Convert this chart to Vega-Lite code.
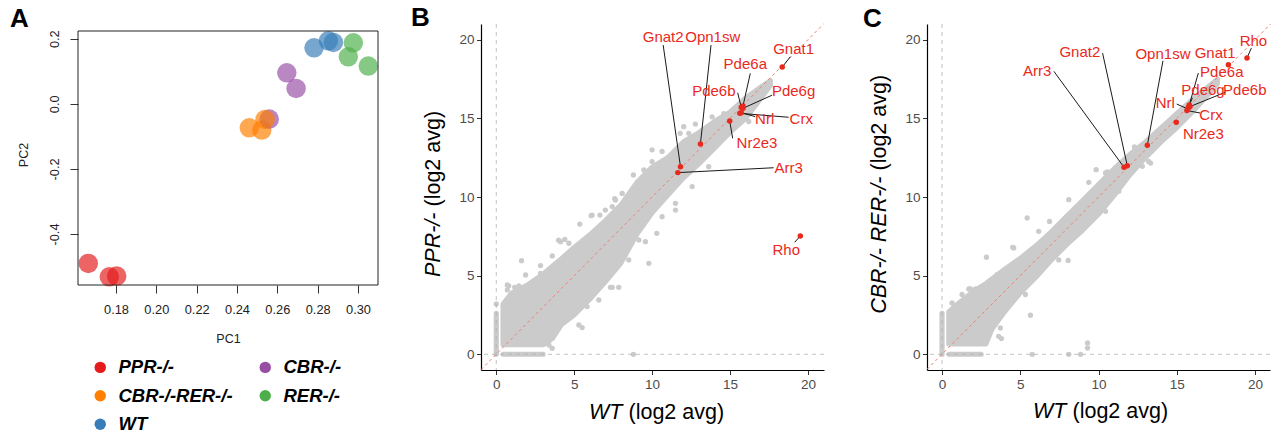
{
  "$schema": "https://vega.github.io/schema/vega-lite/v6.json",
  "padding": {"left": 10, "top": 4, "right": 0, "bottom": 0},
  "background": "white",
  "bounds": "flush",
  "spacing": 103,
  "config": {
    "font": "Liberation Sans",
    "view": {"stroke": null},
    "axis": {"grid": false},
    "title": {"fontSize": 26, "fontWeight": "bold", "anchor": "start", "frame": "bounds", "color": "#000"}
  },
  "datasets": {
    "pca": [
      {"group": "PPR-/-", "pc1": 0.16626, "pc2": -0.4903},
      {"group": "PPR-/-", "pc1": 0.17668, "pc2": -0.5315},
      {"group": "PPR-/-", "pc1": 0.18035, "pc2": -0.5293},
      {"group": "CBR-/-RER-/-", "pc1": 0.2461, "pc2": -0.0737},
      {"group": "CBR-/-RER-/-", "pc1": 0.2523, "pc2": -0.0808},
      {"group": "CBR-/-", "pc1": 0.2560, "pc2": -0.0470},
      {"group": "CBR-/-RER-/-", "pc1": 0.2539, "pc2": -0.0479},
      {"group": "CBR-/-", "pc1": 0.2647, "pc2": 0.0952},
      {"group": "CBR-/-", "pc1": 0.2693, "pc2": 0.0473},
      {"group": "WT", "pc1": 0.2782, "pc2": 0.1720},
      {"group": "WT", "pc1": 0.2853, "pc2": 0.1935},
      {"group": "WT", "pc1": 0.2878, "pc2": 0.1886},
      {"group": "RER-/-", "pc1": 0.2977, "pc2": 0.1874},
      {"group": "RER-/-", "pc1": 0.2952, "pc2": 0.1444},
      {"group": "RER-/-", "pc1": 0.3051, "pc2": 0.1158}
    ],
    "cloudB": [
      {"x": 0.43, "hi": 3.2, "lo": 0.6},
      {"x": 1.0, "hi": 3.9, "lo": 0.6},
      {"x": 2.0, "hi": 4.4, "lo": 0.6},
      {"x": 3.0, "hi": 5.1, "lo": 0.6},
      {"x": 3.6, "hi": 5.6, "lo": 1.0},
      {"x": 4.2, "hi": 6.1, "lo": 1.9},
      {"x": 5.0, "hi": 6.8, "lo": 2.5},
      {"x": 6.0, "hi": 7.6, "lo": 3.5},
      {"x": 7.0, "hi": 8.5, "lo": 4.6},
      {"x": 8.0, "hi": 9.5, "lo": 5.8},
      {"x": 9.0, "hi": 10.9, "lo": 7.6},
      {"x": 10.0, "hi": 11.9, "lo": 9.0},
      {"x": 11.0, "hi": 12.5, "lo": 10.1},
      {"x": 12.0, "hi": 13.5, "lo": 11.2},
      {"x": 13.0, "hi": 14.1, "lo": 12.1},
      {"x": 14.0, "hi": 14.8, "lo": 13.1},
      {"x": 15.0, "hi": 15.4, "lo": 14.1},
      {"x": 16.0, "hi": 16.3, "lo": 15.0},
      {"x": 17.0, "hi": 17.0, "lo": 16.3},
      {"x": 17.6, "hi": 17.4, "lo": 17.1}
    ],
    "segB": [
      {"x": 0, "y": 0, "x2": 0, "y2": 2.6},
      {"x": 0.45, "y": 0, "x2": 3.0, "y2": 0}
    ],
    "ptsB": [
      {"x": 0, "y": 3.2}, {"x": 0.8, "y": 4.35}, {"x": 1.62, "y": 5.95}, {"x": 1.88, "y": 5.04},
      {"x": 2.84, "y": 5.64}, {"x": 4.0, "y": 7.25}, {"x": 4.4, "y": 7.3}, {"x": 5.36, "y": 8.28},
      {"x": 6.15, "y": 8.85}, {"x": 6.65, "y": 8.85}, {"x": 7.6, "y": 9.9}, {"x": 8.8, "y": 11.4},
      {"x": 10.0, "y": 13.0}, {"x": 10.64, "y": 12.9}, {"x": 12.03, "y": 14.47}, {"x": 12.78, "y": 14.64},
      {"x": 5.51, "y": 1.7}, {"x": 8.8, "y": 0}, {"x": 9.79, "y": 5.78}, {"x": 7.86, "y": 4.26},
      {"x": 7.33, "y": 4.26}, {"x": 9.57, "y": 7.16}, {"x": 10.64, "y": 8.75}, {"x": 11.5, "y": 9.6},
      {"x": 0.71, "y": 4.41}, {"x": 0.71, "y": 4.09}, {"x": 1.18, "y": 4.26}, {"x": 1.45, "y": 4.34},
      {"x": 2.84, "y": 5.15}, {"x": 3.59, "y": 6.25}, {"x": 4.12, "y": 7.16}, {"x": 4.66, "y": 7.06},
      {"x": 6.09, "y": 8.81}, {"x": 7.44, "y": 9.39}, {"x": 7.0, "y": 9.17}, {"x": 7.65, "y": 9.81},
      {"x": 8.08, "y": 10.23}, {"x": 9.47, "y": 11.72}, {"x": 10.0, "y": 12.25}, {"x": 11.8, "y": 14.05},
      {"x": 12.35, "y": 14.05}, {"x": 13.85, "y": 15.1}, {"x": 14.6, "y": 15.3},
      {"x": 3.38, "y": 0.59}, {"x": 3.59, "y": 0.38}, {"x": 5.3, "y": 1.86}, {"x": 5.83, "y": 3.03},
      {"x": 6.58, "y": 3.45}, {"x": 7.44, "y": 4.26}, {"x": 8.5, "y": 6.0}, {"x": 9.15, "y": 7.27},
      {"x": 10.3, "y": 7.69}, {"x": 11.5, "y": 9.17}, {"x": 12.57, "y": 10.66}, {"x": 13.63, "y": 11.93},
      {"x": 16.2, "y": 14.8}
    ],
    "cloudC": [
      {"x": 0.43, "hi": 2.7, "lo": 0.65},
      {"x": 1.0, "hi": 3.2, "lo": 0.65},
      {"x": 2.0, "hi": 4.0, "lo": 0.65},
      {"x": 2.8, "hi": 4.5, "lo": 0.65},
      {"x": 3.2, "hi": 4.8, "lo": 1.6},
      {"x": 4.0, "hi": 5.4, "lo": 2.7},
      {"x": 5.0, "hi": 6.1, "lo": 3.9},
      {"x": 6.0, "hi": 6.9, "lo": 4.9},
      {"x": 7.0, "hi": 7.8, "lo": 6.0},
      {"x": 8.0, "hi": 8.8, "lo": 7.0},
      {"x": 9.0, "hi": 9.8, "lo": 7.9},
      {"x": 10.0, "hi": 10.8, "lo": 8.9},
      {"x": 11.0, "hi": 11.8, "lo": 10.1},
      {"x": 12.0, "hi": 12.7, "lo": 11.4},
      {"x": 13.0, "hi": 13.5, "lo": 12.5},
      {"x": 14.0, "hi": 14.4, "lo": 13.5},
      {"x": 15.0, "hi": 15.3, "lo": 14.4},
      {"x": 16.0, "hi": 16.2, "lo": 15.4},
      {"x": 17.0, "hi": 17.0, "lo": 16.5},
      {"x": 17.6, "hi": 17.5, "lo": 17.2}
    ],
    "segC": [
      {"x": 0, "y": 0, "x2": 0, "y2": 2.6},
      {"x": 0.45, "y": 0, "x2": 2.5, "y2": 0}
    ],
    "ptsC": [
      {"x": 1.28, "y": 3.8}, {"x": 1.81, "y": 4.15}, {"x": 2.13, "y": 4.15}, {"x": 2.84, "y": 6.17},
      {"x": 4.52, "y": 6.8}, {"x": 5.44, "y": 8.67}, {"x": 6.18, "y": 7.82}, {"x": 6.87, "y": 8.45},
      {"x": 7.46, "y": 6.0}, {"x": 8.06, "y": 5.97}, {"x": 8.1, "y": 9.83}, {"x": 9.38, "y": 10.93},
      {"x": 9.85, "y": 11.74}, {"x": 10.55, "y": 11.59}, {"x": 12.3, "y": 13.18}, {"x": 13.2, "y": 12.27},
      {"x": 5.65, "y": 2.48}, {"x": 3.8, "y": 1.0}, {"x": 5.76, "y": 0}, {"x": 8.1, "y": 0},
      {"x": 8.85, "y": 0}, {"x": 9.3, "y": 0.72}, {"x": 9.3, "y": 0.4},
      {"x": 0.64, "y": 3.26}, {"x": 1.71, "y": 4.15}, {"x": 3.52, "y": 5.06}, {"x": 4.58, "y": 6.76},
      {"x": 3.73, "y": 1.67}, {"x": 3.62, "y": 1.14}, {"x": 5.33, "y": 3.8}, {"x": 7.04, "y": 6.33},
      {"x": 10.45, "y": 11.53}, {"x": 12.37, "y": 13.11}, {"x": 12.8, "y": 11.95}, {"x": 13.33, "y": 12.16},
      {"x": 10.45, "y": 9.09}, {"x": 11.3, "y": 10.36}
    ],
    "genesB": [
      {"gene": "Gnat1", "x": 18.35, "y": 18.26, "lx": 19.08, "ly": 19.39, "ex": 18.87, "ey": 18.92},
      {"gene": "Pde6a", "x": 15.83, "y": 15.78, "lx": 15.98, "ly": 18.44, "ex": 16.3, "ey": 17.86},
      {"gene": "Pde6b", "x": 15.72, "y": 15.7, "lx": 13.96, "ly": 16.74, "ex": 15.49, "ey": 16.63},
      {"gene": "Pde6g", "x": 15.83, "y": 15.64, "lx": 19.08, "ly": 16.74, "ex": 17.69, "ey": 16.47},
      {"gene": "Nrl", "x": 15.72, "y": 15.36, "lx": 17.22, "ly": 14.98, "ex": 16.62, "ey": 15.11},
      {"gene": "Crx", "x": 15.63, "y": 15.32, "lx": 19.57, "ly": 14.98, "ex": 18.76, "ey": 15.07},
      {"gene": "Nr2e3", "x": 14.98, "y": 14.83, "lx": 16.73, "ly": 13.41, "ex": 15.17, "ey": 13.73},
      {"gene": "Opn1sw", "x": 13.1, "y": 13.37, "lx": 13.89, "ly": 20.15, "ex": 13.78, "ey": 19.66},
      {"gene": "Gnat2", "x": 11.82, "y": 11.93, "lx": 10.71, "ly": 20.15, "ex": 10.71, "ey": 19.66},
      {"gene": "Arr3", "x": 11.65, "y": 11.55, "lx": 18.76, "ly": 11.82, "ex": 17.8, "ey": 11.86},
      {"gene": "Rho", "x": 19.51, "y": 7.52, "lx": 18.61, "ly": 6.63, "ex": 19.15, "ey": 7.12}
    ],
    "genesC": [
      {"gene": "Rho", "x": 19.49, "y": 18.84, "lx": 19.9, "ly": 19.92, "ex": 19.77, "ey": 19.47},
      {"gene": "Gnat1", "x": 18.3, "y": 18.41, "lx": 17.45, "ly": 19.18},
      {"gene": "Opn1sw", "x": 13.12, "y": 13.29, "lx": 14.12, "ly": 19.11, "ex": 14.12, "ey": 18.66},
      {"gene": "Gnat2", "x": 11.84, "y": 11.99, "lx": 8.81, "ly": 19.2, "ex": 10.26, "ey": 19.15},
      {"gene": "Arr3", "x": 11.63, "y": 11.89, "lx": 6.08, "ly": 17.99, "ex": 7.15, "ey": 17.99},
      {"gene": "Nr2e3", "x": 14.97, "y": 14.75, "lx": 16.7, "ly": 14.0},
      {"gene": "Pde6a", "x": 15.8, "y": 15.85, "lx": 17.88, "ly": 17.92, "ex": 16.38, "ey": 17.88},
      {"gene": "Pde6g", "x": 15.75, "y": 15.7, "lx": 16.68, "ly": 16.78, "ex": 16.0, "ey": 16.3},
      {"gene": "Pde6b", "x": 15.85, "y": 15.75, "lx": 19.35, "ly": 16.78, "ex": 18.13, "ey": 16.67},
      {"gene": "Nrl", "x": 15.7, "y": 15.6, "lx": 14.27, "ly": 15.98, "ex": 15.0, "ey": 15.91},
      {"gene": "Crx", "x": 15.65, "y": 15.5, "lx": 17.19, "ly": 15.19, "ex": 16.49, "ey": 15.34}
    ]
  },
  "hconcat": [
    {
      "width": 300,
      "height": 261,
      "title": {"text": "A", "dx": -7, "dy": 12},
      "layer": [
        {
          "data": {"name": "pca"},
          "mark": {"type": "circle", "size": 380, "opacity": 0.68},
          "encoding": {
            "x": {"field": "pc1", "type": "quantitative",
              "scale": {"domain": [0.16116, 0.30992], "nice": false, "zero": false},
              "axis": {"values": [0.18, 0.2, 0.22, 0.24, 0.26, 0.28, 0.3], "format": ".2f", "domain": false,
                "tickSize": 8, "tickColor": "#333", "labelPadding": 10, "labelFontSize": 12.8, "labelColor": "#222",
                "title": "PC1", "titleFontWeight": "normal", "titleFontSize": 12.5, "titleColor": "#222", "titlePadding": 17}},
            "y": {"field": "pc2", "type": "quantitative",
              "scale": {"domain": [-0.5567, 0.24516], "nice": false, "zero": false},
              "axis": {"values": [-0.4, -0.2, 0, 0.2], "labelExpr": "replace(format(datum.value, '.1f'), '−', '-')",
                "domain": false, "tickSize": 8, "tickColor": "#333", "labelAngle": -90, "labelAlign": "center",
                "labelBaseline": "bottom", "labelPadding": 9, "labelFontSize": 12.8, "labelColor": "#222",
                "title": "PC2", "titleFontWeight": "normal", "titleFontSize": 12.5, "titleColor": "#222", "titlePadding": 18}},
            "color": {"field": "group", "type": "nominal",
              "scale": {"domain": ["PPR-/-", "CBR-/-RER-/-", "WT", "CBR-/-", "RER-/-"],
                "range": ["#E41A1C", "#FF7F00", "#377EB8", "#984EA3", "#4DAF4A"]},
              "legend": {"orient": "none", "legendX": 13, "legendY": 334, "columns": 2, "title": null,
                "symbolType": "circle", "symbolSize": 130, "symbolOpacity": 1, "symbolStrokeWidth": 0,
                "labelFontSize": 18.5, "labelFontStyle": "italic", "labelFontWeight": "bold", "labelColor": "#000",
                "labelOffset": 9, "rowPadding": 9.5, "columnPadding": 23, "labelLimit": 300, "padding": 0}}
          }
        },
        {
          "data": {"values": [{}]},
          "mark": {"type": "rect", "fill": "transparent", "stroke": "#222", "strokeWidth": 1},
          "encoding": {
            "x": {"datum": 0.16116, "type": "quantitative"},
            "x2": {"datum": 0.30992},
            "y": {"datum": -0.5567, "type": "quantitative"},
            "y2": {"datum": 0.22365}
          }
        }
      ]
    },
    {
      "width": 343,
      "height": 346,
      "title": {"text": "B", "dx": -11, "dy": 11},
      "resolve": {"axis": {"x": "independent", "y": "independent"}},
      "layer": [
        {
          "data": {"name": "cloudB"},
          "mark": {"type": "area", "color": "#cbcbcb", "stroke": "#cbcbcb", "strokeWidth": 5, "strokeJoin": "round"},
          "encoding": {
            "x": {"field": "x", "type": "quantitative", "scale": {"domain": [-0.98, 21.03], "nice": false, "zero": false},
              "axis": {"orient": "bottom", "values": [0, 5, 10, 15, 20], "format": "d", "domainColor": "#000", "domainWidth": 1.2,
                "tickColor": "#333", "tickSize": 4.5, "labelPadding": 2.5, "labelFontSize": 13.5, "labelColor": "#4d4d4d",
                "title": "WT", "titleFontStyle": "italic", "titleFontWeight": "normal", "titleFontSize": 21.5, "titleColor": "#000",
                "titleX": 141, "titleY": 48, "titleAlign": "right", "titleBaseline": "alphabetic"}},
            "y": {"field": "hi", "type": "quantitative", "scale": {"domain": [-1, 21], "nice": false, "zero": false},
              "axis": {"orient": "left", "values": [0, 5, 10, 15, 20], "format": "d", "domainColor": "#000", "domainWidth": 1.2,
                "tickColor": "#333", "tickSize": 4.5, "labelPadding": 2.5, "labelFontSize": 13.5, "labelColor": "#4d4d4d",
                "title": "PPR-/-", "titleFontStyle": "italic", "titleFontWeight": "normal", "titleFontSize": 21.5, "titleColor": "#000",
                "titleAngle": 270, "titleX": -42, "titleY": 188, "titleAlign": "right", "titleBaseline": "alphabetic"}},
            "y2": {"field": "lo"}
          }
        },
        {
          "data": {"name": "segB"},
          "mark": {"type": "rule", "color": "#cbcbcb", "strokeWidth": 5.2, "strokeCap": "round"},
          "encoding": {
            "x": {"field": "x", "type": "quantitative", "axis": null},
            "y": {"field": "y", "type": "quantitative", "axis": null},
            "x2": {"field": "x2"}, "y2": {"field": "y2"}
          }
        },
        {
          "data": {"name": "ptsB"},
          "mark": {"type": "circle", "color": "#cbcbcb", "opacity": 1, "size": 28},
          "encoding": {
            "x": {"field": "x", "type": "quantitative", "axis": null},
            "y": {"field": "y", "type": "quantitative", "axis": null}
          }
        },
        {
          "data": {"values": [{}]},
          "mark": {"type": "rule", "color": "#b3b3b3", "strokeDash": [4, 4], "strokeWidth": 0.8},
          "encoding": {"x": {"datum": 0, "type": "quantitative", "axis": null}}
        },
        {
          "data": {"values": [{}]},
          "mark": {"type": "rule", "color": "#b3b3b3", "strokeDash": [4, 4], "strokeWidth": 0.8},
          "encoding": {"y": {"datum": 0, "type": "quantitative", "axis": null}}
        },
        {
          "data": {"values": [{}]},
          "mark": {"type": "rule", "color": "#f07f73", "strokeDash": [3, 3], "strokeWidth": 1},
          "encoding": {
            "x": {"datum": -0.98, "type": "quantitative",
              "axis": {"orient": "bottom", "labels": false, "ticks": false, "domain": false,
                "title": "(log2 avg)", "titleFontWeight": "normal", "titleFontSize": 21.5, "titleColor": "#000",
                "titleX": 147, "titleY": 48, "titleAlign": "left", "titleBaseline": "alphabetic"}},
            "y": {"datum": -0.98, "type": "quantitative",
              "axis": {"orient": "left", "labels": false, "ticks": false, "domain": false,
                "title": "(log2 avg)", "titleFontWeight": "normal", "titleFontSize": 21.5, "titleColor": "#000",
                "titleAngle": 270, "titleX": -42, "titleY": 182, "titleAlign": "left", "titleBaseline": "alphabetic"}},
            "x2": {"datum": 21}, "y2": {"datum": 21}
          }
        },
        {
          "data": {"name": "genesB"},
          "transform": [{"filter": "isValid(datum.ex)"}],
          "mark": {"type": "rule", "color": "#1a1a1a", "strokeWidth": 1},
          "encoding": {
            "x": {"field": "x", "type": "quantitative", "axis": null},
            "y": {"field": "y", "type": "quantitative", "axis": null},
            "x2": {"field": "ex"}, "y2": {"field": "ey"}
          }
        },
        {
          "data": {"name": "genesB"},
          "mark": {"type": "circle", "color": "#e8291c", "opacity": 1, "size": 30},
          "encoding": {
            "x": {"field": "x", "type": "quantitative", "axis": null},
            "y": {"field": "y", "type": "quantitative", "axis": null}
          }
        },
        {
          "data": {"name": "genesB"},
          "mark": {"type": "text", "color": "#e8291c", "fontSize": 15, "align": "center", "baseline": "middle"},
          "encoding": {
            "x": {"field": "lx", "type": "quantitative", "axis": null},
            "y": {"field": "ly", "type": "quantitative", "axis": null},
            "text": {"field": "gene"}
          }
        }
      ]
    },
    {
      "width": 343,
      "height": 346,
      "title": {"text": "C", "dx": -5, "dy": 12},
      "resolve": {"axis": {"x": "independent", "y": "independent"}},
      "layer": [
        {
          "data": {"name": "cloudC"},
          "mark": {"type": "area", "color": "#cbcbcb", "stroke": "#cbcbcb", "strokeWidth": 5, "strokeJoin": "round"},
          "encoding": {
            "x": {"field": "x", "type": "quantitative", "scale": {"domain": [-0.96, 20.96], "nice": false, "zero": false},
              "axis": {"orient": "bottom", "values": [0, 5, 10, 15, 20], "format": "d", "domainColor": "#000", "domainWidth": 1.2,
                "tickColor": "#333", "tickSize": 4.5, "labelPadding": 2.5, "labelFontSize": 13.5, "labelColor": "#4d4d4d",
                "title": "WT", "titleFontStyle": "italic", "titleFontWeight": "normal", "titleFontSize": 21.5, "titleColor": "#000",
                "titleX": 139, "titleY": 47, "titleAlign": "right", "titleBaseline": "alphabetic"}},
            "y": {"field": "hi", "type": "quantitative", "scale": {"domain": [-1, 21], "nice": false, "zero": false},
              "axis": {"orient": "left", "values": [0, 5, 10, 15, 20], "format": "d", "domainColor": "#000", "domainWidth": 1.2,
                "tickColor": "#333", "tickSize": 4.5, "labelPadding": 2.5, "labelFontSize": 13.5, "labelColor": "#4d4d4d",
                "title": "CBR-/- RER-/-", "titleFontStyle": "italic", "titleFontWeight": "normal", "titleFontSize": 21.5, "titleColor": "#000",
                "titleAngle": 270, "titleX": -42, "titleY": 152, "titleAlign": "right", "titleBaseline": "alphabetic"}},
            "y2": {"field": "lo"}
          }
        },
        {
          "data": {"name": "segC"},
          "mark": {"type": "rule", "color": "#cbcbcb", "strokeWidth": 5.2, "strokeCap": "round"},
          "encoding": {
            "x": {"field": "x", "type": "quantitative", "axis": null},
            "y": {"field": "y", "type": "quantitative", "axis": null},
            "x2": {"field": "x2"}, "y2": {"field": "y2"}
          }
        },
        {
          "data": {"name": "ptsC"},
          "mark": {"type": "circle", "color": "#cbcbcb", "opacity": 1, "size": 28},
          "encoding": {
            "x": {"field": "x", "type": "quantitative", "axis": null},
            "y": {"field": "y", "type": "quantitative", "axis": null}
          }
        },
        {
          "data": {"values": [{}]},
          "mark": {"type": "rule", "color": "#b3b3b3", "strokeDash": [4, 4], "strokeWidth": 0.8},
          "encoding": {"x": {"datum": 0, "type": "quantitative", "axis": null}}
        },
        {
          "data": {"values": [{}]},
          "mark": {"type": "rule", "color": "#b3b3b3", "strokeDash": [4, 4], "strokeWidth": 0.8},
          "encoding": {"y": {"datum": 0, "type": "quantitative", "axis": null}}
        },
        {
          "data": {"values": [{}]},
          "mark": {"type": "rule", "color": "#f07f73", "strokeDash": [3, 3], "strokeWidth": 1},
          "encoding": {
            "x": {"datum": -0.96, "type": "quantitative",
              "axis": {"orient": "bottom", "labels": false, "ticks": false, "domain": false,
                "title": "(log2 avg)", "titleFontWeight": "normal", "titleFontSize": 21.5, "titleColor": "#000",
                "titleX": 145, "titleY": 47, "titleAlign": "left", "titleBaseline": "alphabetic"}},
            "y": {"datum": -0.96, "type": "quantitative",
              "axis": {"orient": "left", "labels": false, "ticks": false, "domain": false,
                "title": "(log2 avg)", "titleFontWeight": "normal", "titleFontSize": 21.5, "titleColor": "#000",
                "titleAngle": 270, "titleX": -42, "titleY": 146, "titleAlign": "left", "titleBaseline": "alphabetic"}},
            "x2": {"datum": 21}, "y2": {"datum": 21}
          }
        },
        {
          "data": {"name": "genesC"},
          "transform": [{"filter": "isValid(datum.ex)"}],
          "mark": {"type": "rule", "color": "#1a1a1a", "strokeWidth": 1},
          "encoding": {
            "x": {"field": "x", "type": "quantitative", "axis": null},
            "y": {"field": "y", "type": "quantitative", "axis": null},
            "x2": {"field": "ex"}, "y2": {"field": "ey"}
          }
        },
        {
          "data": {"name": "genesC"},
          "mark": {"type": "circle", "color": "#e8291c", "opacity": 1, "size": 30},
          "encoding": {
            "x": {"field": "x", "type": "quantitative", "axis": null},
            "y": {"field": "y", "type": "quantitative", "axis": null}
          }
        },
        {
          "data": {"name": "genesC"},
          "mark": {"type": "text", "color": "#e8291c", "fontSize": 15, "align": "center", "baseline": "middle"},
          "encoding": {
            "x": {"field": "lx", "type": "quantitative", "axis": null},
            "y": {"field": "ly", "type": "quantitative", "axis": null},
            "text": {"field": "gene"}
          }
        }
      ]
    }
  ]
}
